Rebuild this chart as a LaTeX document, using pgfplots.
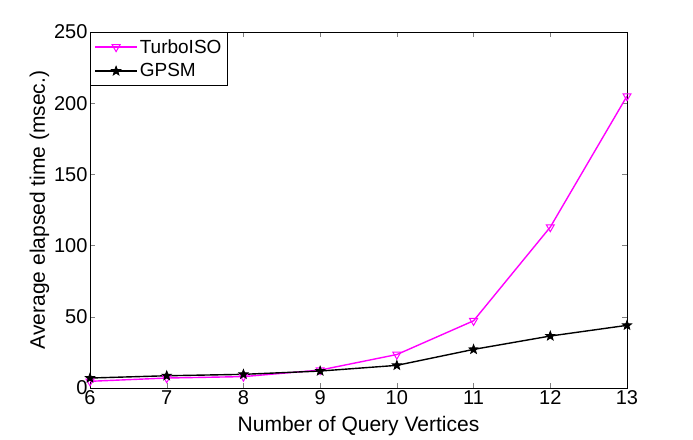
\documentclass[border=0pt]{standalone}
\usepackage{pgfplots}
\pgfplotsset{compat=1.18}
\usepackage{fontspec}
\setmainfont{Liberation Sans}
\usetikzlibrary{plotmarks}
\pgfdeclareplotmark{pentastar}{%
  \pgfpathmoveto{\pgfpointpolar{90}{\pgfplotmarksize}}%
  \pgfpathlineto{\pgfpointpolar{126}{0.42\pgfplotmarksize}}%
  \pgfpathlineto{\pgfpointpolar{162}{\pgfplotmarksize}}%
  \pgfpathlineto{\pgfpointpolar{198}{0.42\pgfplotmarksize}}%
  \pgfpathlineto{\pgfpointpolar{234}{\pgfplotmarksize}}%
  \pgfpathlineto{\pgfpointpolar{270}{0.42\pgfplotmarksize}}%
  \pgfpathlineto{\pgfpointpolar{306}{\pgfplotmarksize}}%
  \pgfpathlineto{\pgfpointpolar{342}{0.42\pgfplotmarksize}}%
  \pgfpathlineto{\pgfpointpolar{18}{\pgfplotmarksize}}%
  \pgfpathlineto{\pgfpointpolar{54}{0.42\pgfplotmarksize}}%
  \pgfpathclose
  \pgfusepathqfillstroke}
\begin{document}
\begin{tikzpicture}[x=1pt,y=1pt]
\path[use as bounding box] (-90,-51) rectangle (603,388);
\begin{axis}[
  scale only axis,
  width=537pt, height=356pt,
  xmin=6, xmax=13, ymin=0, ymax=250,
  xtick={6,...,13}, ytick={0,50,...,250},
  tick align=inside, major tick length=5pt,
  xtick pos=both, ytick pos=both,
  /pgf/number format/assume math mode=true,
  ticklabel style={font=\fontsize{20}{22}\selectfont},
  xticklabel style={yshift=1pt},
  yticklabel style={xshift=1pt},
  label style={font=\fontsize{21}{23}\selectfont},
  xlabel={Number of Query Vertices},
  ylabel={Average elapsed time (msec.)},
  xlabel style={yshift=-5pt},
  ylabel style={yshift=-2pt},
  axis line style={line width=0.8pt},
  legend image code/.code={\draw[mark repeat=2,mark phase=2,#1] plot coordinates {(0pt,0pt) (21pt,0pt) (42pt,0pt)};},
  legend style={at={(0,1)}, anchor=north west, font=\fontsize{19}{21}\selectfont,
     draw=black, line width=0.8pt, inner xsep=4pt, inner ysep=5pt, row sep=5pt, cells={anchor=west}},
  legend cell align=left,
]
\addplot[color={rgb,1:red,1;green,0;blue,1}, line width=1.4pt, mark=triangle, mark options={rotate=180, fill=white, line width=1pt, scale=2.3}]
coordinates {(6,4.7) (7,7) (8,8) (9,12.6) (10,23.5) (11,47.2) (12,113) (13,205)};
\addlegendentry{TurboISO}
\addplot[color=black, line width=1.4pt, mark=pentastar, mark options={line width=0.8pt, scale=2.4, fill=black}]
coordinates {(6,7) (7,8.6) (8,9.6) (9,11.9) (10,15.9) (11,27.1) (12,36.5) (13,44)};
\addlegendentry{GPSM}
\end{axis}
\end{tikzpicture}
\end{document}
